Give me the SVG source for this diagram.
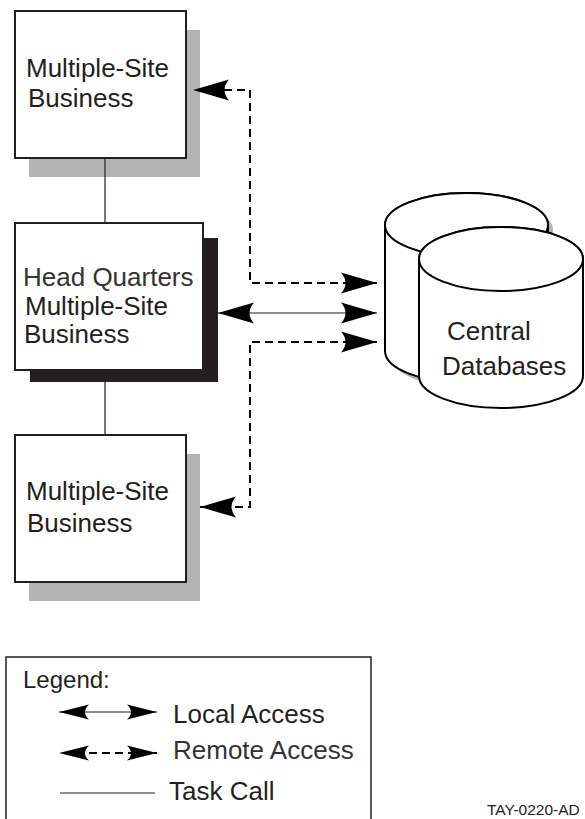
<svg xmlns="http://www.w3.org/2000/svg" width="585" height="819" viewBox="0 0 585 819">
<style>
text{font-family:"Liberation Sans",Arial,sans-serif;fill:#231f20}
.lbl{font-size:26px}
.box{fill:#fff;stroke:#231f20;stroke-width:2}
.cyl{fill:#fff;stroke:#000;stroke-width:2}
.task{stroke:#231f20;stroke-width:1.2;fill:none}
.dash{stroke:#000;stroke-width:2;fill:none;stroke-dasharray:8 5}
.local{stroke:#231f20;stroke-width:1.2;fill:none}
</style>
<defs>
<marker id="ah" markerUnits="userSpaceOnUse" markerWidth="40" markerHeight="24" viewBox="-38 -12 40 24" refX="0" refY="0" orient="auto-start-reverse" overflow="visible">
<path d="M0,0 L-36,-10.5 Q-27,0 -36,10.5 Z" fill="#000" stroke="none"/>
</marker>
<marker id="ahs" markerUnits="userSpaceOnUse" markerWidth="34" markerHeight="18" viewBox="-32 -9 34 18" refX="0" refY="0" orient="auto-start-reverse" overflow="visible">
<path d="M0,0 L-30,-7.5 Q-22,0 -30,7.5 Z" fill="#000" stroke="none"/>
</marker>
</defs>

<g id="site-top">
<rect x="29" y="30" width="171" height="147" fill="#b3b3b3"/>
<rect class="box" x="15" y="11" width="171" height="147"/>
<text class="lbl" x="26" y="77">Multiple-Site</text>
<text class="lbl" x="28" y="107">Business</text>
</g>

<g id="hq">
<rect x="30" y="238" width="188" height="144" fill="#231f20"/>
<rect class="box" x="15" y="223" width="188" height="147"/>
<text class="lbl" x="23" y="286" style="fill:#333">Head Quarters</text>
<text class="lbl" x="25" y="315">Multiple-Site</text>
<text class="lbl" x="24" y="343">Business</text>
</g>

<g id="site-bottom">
<rect x="29" y="454" width="171" height="147" fill="#b3b3b3"/>
<rect class="box" x="15" y="435" width="171" height="147"/>
<text class="lbl" x="26" y="500">Multiple-Site</text>
<text class="lbl" x="27" y="532">Business</text>
</g>

<g id="databases">
<path d="M390,230 V356 A81.5,32 0 0,0 553,356 V230 A81.5,32 0 0,0 390,230 Z" fill="#b3b3b3"/>
<path class="cyl" d="M385,225 V351 A81.5,32 0 0,0 548,351 V225 A81.5,32 0 0,0 385,225 Z"/>
<ellipse class="cyl" cx="466.5" cy="225" rx="81.5" ry="32"/>
<path class="cyl" d="M419,259 V376 A82,32 0 0,0 583,376 V259 A82,32 0 0,0 419,259 Z"/>
<ellipse class="cyl" cx="501" cy="259" rx="82" ry="32"/>
<text class="lbl" x="447" y="340">Central</text>
<text class="lbl" x="442" y="375">Databases</text>
</g>

<g id="connectors">
<path class="task" d="M105,158 V223"/>
<path class="task" d="M105,370 V435"/>
<path class="dash" d="M377,283 H250 V90 H193" marker-start="url(#ah)" marker-end="url(#ah)"/>
<path class="local" d="M218,313 H377" marker-start="url(#ah)" marker-end="url(#ah)"/>
<path class="dash" d="M377,342 H250 V507 H200" marker-start="url(#ah)" marker-end="url(#ah)"/>
</g>

<g id="legend">
<rect x="6" y="657" width="365" height="180" fill="none" stroke="#231f20" stroke-width="1.5"/>
<text x="23" y="688" style="font-size:24px">Legend:</text>
<path class="local" d="M59,712 H157" marker-start="url(#ahs)" marker-end="url(#ahs)"/>
<text class="lbl" x="173" y="723">Local Access</text>
<path d="M59,753 H157" stroke="#000" stroke-width="2" fill="none" stroke-dasharray="8 5" stroke-dashoffset="9" marker-start="url(#ahs)" marker-end="url(#ahs)"/>
<text class="lbl" x="173" y="759" style="fill:#333">Remote Access</text>
<path class="task" d="M60,793 H155"/>
<text class="lbl" x="169" y="800">Task Call</text>
</g>

<text x="487" y="815" style="font-size:15.5px">TAY-0220-AD</text>
</svg>
